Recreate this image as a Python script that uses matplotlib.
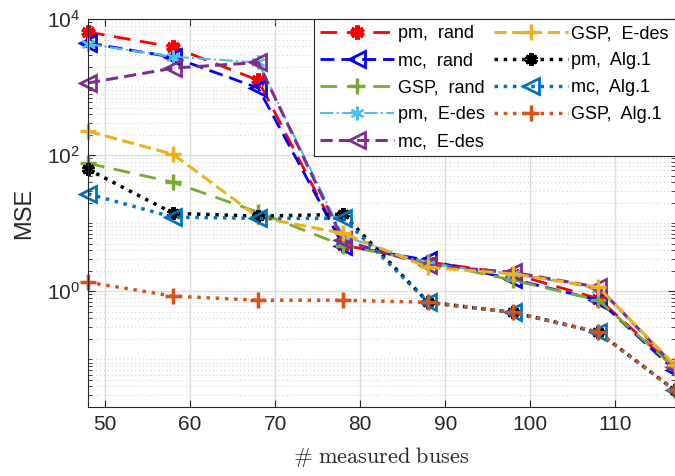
import numpy as np
import matplotlib.pyplot as plt

plt.rcParams['font.family'] = ['Liberation Sans', 'DejaVu Sans']
plt.rcParams['mathtext.fontset'] = 'cm'

# número de buses medidos
buses = [48, 58, 68, 78, 88, 98, 108, 117]

# MSE por método
pm_rand = [6450, 3880, 1260, 4.8, 2.7, 1.8, 0.78, 0.075]
mc_rand = [4450, 2750, 970, 4.7, 2.85, 1.5, 0.74, 0.069]
gsp_rand = [76, 40, 14.5, 4.7, 2.7, 1.45, 0.74, 0.075]
pm_edes = [4300, 2800, 2300, 6.5, 2.5, 1.8, 1.1, 0.08]
mc_edes = [1150, 1900, 2300, 5.6, 2.4, 1.9, 1.15, 0.078]
gsp_edes = [225, 103, 12.3, 7.1, 2.25, 1.8, 1.15, 0.082]
pm_alg1 = [62, 14, 12.7, 13.5, 0.69, 0.49, 0.25, 0.035]
mc_alg1 = [27, 12.3, 11.8, 11.8, 0.69, 0.49, 0.25, 0.035]
gsp_alg1 = [1.36, 0.85, 0.74, 0.74, 0.69, 0.49, 0.25, 0.035]

etiquetas = ["pm,  rand", "mc,  rand", "GSP,  rand", "pm,  E-des", "mc,  E-des",
             "GSP,  E-des", "pm,  Alg.1", "mc,  Alg.1", "GSP,  Alg.1"]

asterisco = (6, 2, 0)

fig = plt.figure(figsize=(6.75, 4.76), dpi=100)
ax = fig.add_axes([0.1304, 0.145, 0.8696, 0.815])

ax.plot(buses, pm_rand, color="red", dashes=(6, 3.5), lw=2, marker=asterisco,
        ms=10, mew=3.5, label=etiquetas[0], clip_on=False)
ax.plot(buses, mc_rand, color="blue", dashes=(5, 2.5), lw=2, marker="<",
        ms=11, mew=2, mfc="none", label=etiquetas[1], clip_on=False)
ax.plot(buses, gsp_rand, color="#77ac30", dashes=(6, 3.5), lw=2, marker="+",
        ms=11, mew=2.5, label=etiquetas[2], clip_on=False)
ax.plot(buses, pm_edes, color="#4dbeee", linestyle="-.", lw=1.5, marker=asterisco,
        ms=10, mew=1.5, label=etiquetas[3], clip_on=False)
ax.plot(buses, mc_edes, color="#7e2f8e", dashes=(4, 2), lw=2.2, marker="<",
        ms=11, mew=2, mfc="none", label=etiquetas[4], clip_on=False)
ax.plot(buses, gsp_edes, color="#edb120", dashes=(4, 1.8), lw=2.2, marker="+",
        ms=11, mew=2.5, label=etiquetas[5], clip_on=False)
ax.plot(buses, pm_alg1, color="black", linestyle=":", lw=2.5, marker=asterisco,
        ms=9, mew=3, label=etiquetas[6], clip_on=False)
ax.plot(buses, mc_alg1, color="#0072bd", linestyle=":", lw=2.5, marker="<",
        ms=11, mew=2, mfc="none", label=etiquetas[7], clip_on=False)
ax.plot(buses, gsp_alg1, color="#d95319", linestyle=":", lw=2.5, marker="+",
        ms=11, mew=2.5, label=etiquetas[8], clip_on=False)

ax.set_yscale("log")
ax.set_xlim(48, 117)
ax.set_ylim(0.02, 1e4)
ax.set_xticks([50, 60, 70, 80, 90, 100, 110])
ax.set_yticks([1, 1e2, 1e4])
ax.set_yticklabels([r"$\mathregular{10^{0}}$", r"$\mathregular{10^{2}}$",
                    r"$\mathregular{10^{4}}$"])
ax.yaxis.set_minor_locator(plt.LogLocator(base=10, subs=np.arange(1, 10), numticks=20))
ax.yaxis.set_minor_formatter(plt.NullFormatter())

ax.grid(True, which="major", color="#dedede", lw=1)
ax.grid(True, which="minor", axis="y", color="#cccccc", linestyle=(0, (1, 3)), lw=0.7)
ax.set_axisbelow(True)

ax.tick_params(which="both", direction="in", top=True, right=True,
               labelsize=15, colors="#262626")
ax.tick_params(which="major", length=5, pad=6)
ax.tick_params(which="minor", length=3)
for lado in ax.spines.values():
    lado.set_color("#262626")
    lado.set_linewidth(0.8)

ax.set_ylabel("MSE", fontsize=17, color="#262626", labelpad=8)
ax.set_xlabel(r"$\#\ \mathrm{measured\ buses}$", fontsize=16, color="#262626",
              labelpad=8)

leyenda = ax.legend(ncol=2, loc="upper right", fontsize=13, handlelength=4.1,
                    handletextpad=0.2, columnspacing=0.5, labelspacing=0.55,
                    borderaxespad=0, borderpad=0.35, fancybox=False, framealpha=1,
                    edgecolor="#262626")
leyenda.get_frame().set_linewidth(0.8)

fig.savefig("out.png", dpi=100)
